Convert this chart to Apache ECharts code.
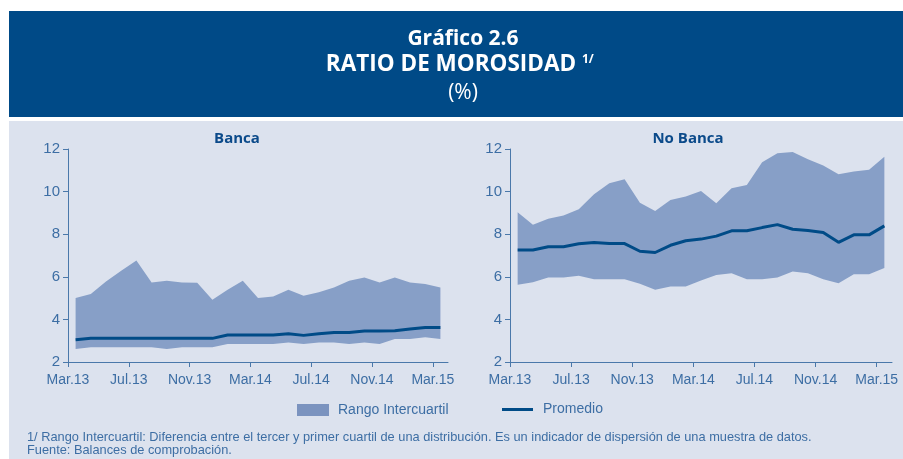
<!DOCTYPE html>
<html><head><meta charset="utf-8">
<script src="https://cdn.jsdelivr.net/npm/echarts@6/dist/echarts.min.js"></script>
<style>html,body{margin:0;padding:0;background:#fff}#c{width:903px;height:459px}</style>
</head><body><div id="c"></div>
<script>
// ---- data ----
const months = ['Mar.13','Abr.13','May.13','Jun.13','Jul.13','Ago.13','Set.13','Oct.13','Nov.13','Dic.13','Ene.14','Feb.14',
  'Mar.14','Abr.14','May.14','Jun.14','Jul.14','Ago.14','Set.14','Oct.14','Nov.14','Dic.14','Ene.15','Feb.15','Mar.15'];
const tickMonths = [0, 4, 8, 12, 16, 20, 24]; // Mar.13, Jul.13, Nov.13, Mar.14, Jul.14, Nov.14, Mar.15
const yTicks = [2, 4, 6, 8, 10, 12];

const bancaQ1 = [2.61,2.69,2.69,2.69,2.69,2.69,2.61,2.69,2.69,2.69,2.84,2.84,2.84,2.84,2.92,2.84,2.92,2.92,2.84,2.92,2.84,3.08,3.08,3.16,3.08];
const bancaQ3 = [5.00,5.19,5.78,6.28,6.77,5.73,5.81,5.73,5.72,4.92,5.39,5.81,5.00,5.08,5.39,5.11,5.27,5.50,5.81,5.97,5.73,5.97,5.73,5.66,5.50];
const bancaMean = [3.05,3.11,3.11,3.11,3.11,3.11,3.11,3.11,3.11,3.11,3.27,3.27,3.27,3.27,3.33,3.25,3.33,3.39,3.39,3.45,3.45,3.47,3.55,3.62,3.62];

const noBancaQ1 = [5.63,5.75,5.97,5.97,6.05,5.89,5.89,5.89,5.67,5.39,5.55,5.55,5.83,6.09,6.17,5.89,5.89,5.97,6.25,6.17,5.89,5.70,6.12,6.12,6.41];
const noBancaQ3 = [9.03,8.44,8.72,8.88,9.17,9.88,10.39,10.58,9.48,9.09,9.61,9.77,10.03,9.45,10.16,10.31,11.38,11.80,11.86,11.52,11.22,10.81,10.94,11.02,11.64];
const noBancaMean = [7.26,7.26,7.41,7.41,7.55,7.61,7.56,7.56,7.20,7.14,7.48,7.69,7.77,7.91,8.16,8.16,8.31,8.45,8.23,8.17,8.08,7.62,7.97,7.97,8.39];

// ---- styles ----
const FONT = '"Liberation Sans", Arial, sans-serif';
const BOLD = '"Open Sans", "Noto Sans", sans-serif';
const AXIS_COLOR = '#4a78aa';
const LABEL_COLOR = '#3d6ea4';
const BAND_COLOR = '#879fc7';
const LINE_COLOR = '#004b87';

const chart = echarts.init(document.getElementById('c'), null, {renderer: 'canvas'});

// visible value axis: ticks and labels on the month boundaries
function tickAxisFor(idx) {
  return {
    type: 'value', gridIndex: idx, min: 0, max: months.length, position: 'bottom',
    axisLine: {show: true, lineStyle: {color: AXIS_COLOR, width: 1}},
    axisTick: {show: true, length: 5, lineStyle: {color: AXIS_COLOR}, customValues: tickMonths},
    axisLabel: {customValues: tickMonths, formatter: v => months[v] || '', color: LABEL_COLOR,
      fontFamily: FONT, fontSize: 14, margin: 11},
    splitLine: {show: false}
  };
}
// hidden category axis carrying the data (one band per month)
function catAxisFor(idx) {
  return {
    type: 'category', gridIndex: idx, data: months, boundaryGap: true, show: false, position: 'top'
  };
}
function yAxisFor(idx) {
  return {
    type: 'value', gridIndex: idx, min: yTicks[0], max: yTicks[yTicks.length - 1], interval: 2,
    axisLine: {show: true, lineStyle: {color: AXIS_COLOR, width: 1}},
    axisTick: {show: true, length: 5, lineStyle: {color: AXIS_COLOR}},
    axisLabel: {color: LABEL_COLOR, fontFamily: FONT, fontSize: 15, margin: 8},
    splitLine: {show: false}
  };
}
function seriesFor(idx, xIdx, q1, q3, mean) {
  const key = 'band' + idx;
  return [
    {type: 'line', name: 'base' + idx, xAxisIndex: xIdx, yAxisIndex: idx, stack: key, silent: true,
      symbol: 'none', lineStyle: {opacity: 0}, data: q1},
    {type: 'line', name: 'Rango Intercuartil', xAxisIndex: xIdx, yAxisIndex: idx, stack: key, silent: true,
      symbol: 'none', lineStyle: {opacity: 0}, itemStyle: {color: BAND_COLOR},
      areaStyle: {color: BAND_COLOR, opacity: 1},
      data: q3.map((v, i) => +(v - q1[i]).toFixed(4))},
    {type: 'line', name: 'Promedio', xAxisIndex: xIdx, yAxisIndex: idx, silent: true, z: 5,
      symbol: 'none', itemStyle: {color: LINE_COLOR}, lineStyle: {color: LINE_COLOR, width: 3},
      data: mean}
  ];
}

const option = {
  animation: false,
  backgroundColor: '#ffffff',
  graphic: [
    {type: 'rect', z: -10, shape: {x: 9, y: 11, width: 894, height: 106}, style: {fill: '#004a87'}},
    {type: 'rect', z: -10, shape: {x: 9, y: 121, width: 894, height: 338}, style: {fill: '#dce2ee'}},
    {type: 'text', z: 10, x: 463, y: 39, style: {text: 'Gráfico 2.6', fill: '#ffffff', font: 'bold 21px ' + BOLD, textAlign: 'center', textVerticalAlign: 'middle'}},
    {type: 'text', z: 10, x: 451, y: 65, style: {text: 'RATIO DE MOROSIDAD', fill: '#ffffff', font: 'bold 22.5px ' + BOLD, textAlign: 'center', textVerticalAlign: 'middle'}},
    {type: 'text', z: 10, x: 582, y: 60, style: {text: '1/', fill: '#ffffff', font: 'bold 12px ' + BOLD, textAlign: 'left', textVerticalAlign: 'middle'}},
    {type: 'text', z: 10, x: 463, y: 93, style: {text: '(%)', fill: '#ffffff', font: '21px ' + BOLD, textAlign: 'center', textVerticalAlign: 'middle'}},
    {type: 'text', z: 10, x: 237, y: 139, style: {text: 'Banca', fill: '#0b4a8a', font: 'bold 15px ' + BOLD, textAlign: 'center', textVerticalAlign: 'middle'}},
    {type: 'text', z: 10, x: 688, y: 139, style: {text: 'No Banca', fill: '#0b4a8a', font: 'bold 15px ' + BOLD, textAlign: 'center', textVerticalAlign: 'middle'}},
    {type: 'text', z: 10, x: 27, y: 437.5, style: {text: '1/ Rango Intercuartil: Diferencia entre el tercer y primer cuartil de una distribución. Es un indicador de dispersión de una muestra de datos.', fill: LABEL_COLOR, font: '12.8px ' + FONT, textAlign: 'left', textVerticalAlign: 'middle'}},
    {type: 'text', z: 10, x: 27, y: 450.5, style: {text: 'Fuente: Balances de comprobación.', fill: LABEL_COLOR, font: '12.8px ' + FONT, textAlign: 'left', textVerticalAlign: 'middle'}}
  ],
  legend: [
    {data: [{name: 'Rango Intercuartil', icon: 'rect', itemStyle: {color: '#7b93bf'}}], left: 297, top: 403, padding: 0,
      itemWidth: 32, itemHeight: 12, selectedMode: false,
      textStyle: {color: LABEL_COLOR, fontFamily: FONT, fontSize: 14, padding: [0, 0, 0, 4]}},
    {data: [{name: 'Promedio', icon: 'rect', itemStyle: {color: LINE_COLOR}}], left: 502, top: 402.5, padding: 0,
      itemWidth: 31, itemHeight: 3, selectedMode: false,
      textStyle: {color: LABEL_COLOR, fontFamily: FONT, fontSize: 14, padding: [0, 0, 0, 5]}}
  ],
  grid: [
    {left: 68, top: 149, width: 380, height: 213, containLabel: false},
    {left: 510, top: 149, width: 382, height: 213, containLabel: false}
  ],
  xAxis: [tickAxisFor(0), catAxisFor(0), tickAxisFor(1), catAxisFor(1)],
  yAxis: [yAxisFor(0), yAxisFor(1)],
  series: [].concat(seriesFor(0, 1, bancaQ1, bancaQ3, bancaMean), seriesFor(1, 3, noBancaQ1, noBancaQ3, noBancaMean))
};
chart.setOption(option);
</script></body></html>
